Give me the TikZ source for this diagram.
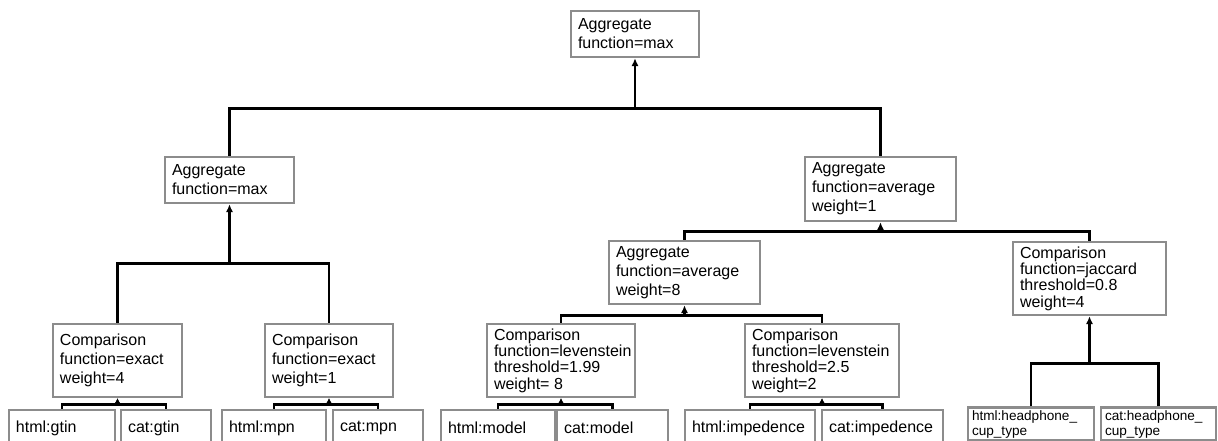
\documentclass[tikz,border=0pt]{standalone}
\usepackage{fontspec}
\setmainfont{Liberation Sans}
\usetikzlibrary{positioning, arrows.meta, calc}

\begin{document}
\begin{tikzpicture}[
    x=0.75pt, y=-0.75pt,
    font=\fontsize{12pt}{14.25pt}\selectfont,
    >=Latex,
    box/.style={
        rectangle, draw=black!45, line width=1.8pt,
        fill=white,
        inner xsep=5.25pt, inner ysep=2pt,
        align=flush left
    },
    cmp/.style={box, minimum height=54.75pt},
    tight/.style={font=\fontsize{12pt}{12.2pt}\selectfont},
    leaf/.style={box, minimum height=27pt},
    smallleaf/.style={box, inner xsep=3pt, minimum height=24pt,
        font=\fontsize{10.2pt}{11.25pt}\selectfont},
    link/.style={line width=2pt},
    arrow/.style={-{Latex[length=6pt,width=5.5pt]}, line width=2pt},
    shortarrow/.style={-{Latex[length=4.5pt,width=5pt]}, line width=2pt},
]
\clip (0,0) rectangle (1218,441);

% ---------- Root ----------
\node[box, text width=85.5pt, minimum height=34.5pt] (root) at (635,34) {Aggregate\\function=max};

% ---------- Second level ----------
\node[box, text width=86.25pt, minimum height=34.5pt] (aggMax) at (229.5,180) {Aggregate\\function=max};
\node[box, text width=102.75pt, minimum height=48pt] (aggAvg) at (880.5,189) {Aggregate\\function=average\\weight=1};

% ---------- Third level ----------
\node[box, text width=102.75pt, minimum height=47.25pt] (aggAvgW8) at (684.5,272.5) {Aggregate\\function=average\\weight=8};
\node[cmp, tight, text width=104.25pt] (cmpJac) at (1089.5,278.5) {Comparison\\function=jaccard\\threshold=0.8\\weight=4};

% ---------- Comparisons ----------
\node[cmp, text width=86.25pt] (cmpGtin) at (117.5,360.5) {Comparison\\function=exact\\weight=4};
\node[cmp, text width=85.5pt] (cmpMpn) at (329,360.5) {Comparison\\function=exact\\weight=1};
\node[cmp, tight, text width=100.5pt] (cmpModel) at (561,360.5) {Comparison\\function=levenstein\\threshold=1.99\\weight= 8};
\node[cmp, tight, text width=105pt] (cmpImp) at (822,360.5) {Comparison\\function=levenstein\\threshold=2.5\\weight=2};

% ---------- Leaves ----------
\node[leaf, text width=69pt] (htmlGtin) at (62,428) {html:gtin};
\node[leaf, text width=57pt] (catGtin) at (166,428) {cat:gtin};
\node[leaf, text width=67.5pt] (htmlMpn) at (274,428) {html:mpn};
\node[leaf, text width=57pt] (catMpn) at (378,428) {cat:mpn};
\node[leaf, text width=75pt] (htmlModel) at (498,428) {html:model};
\node[leaf, text width=72.75pt] (catModel) at (612.5,428) {cat:model};
\node[leaf, text width=87pt] (htmlImp) at (750,428) {html:impedence};
\node[leaf, text width=80.25pt] (catImp) at (882.5,428) {cat:impedence};
\node[smallleaf, text width=88.5pt] (htmlCup) at (1031,424) {html:headphone\_\\cup\_type};
\node[smallleaf, text width=80.25pt] (catCup) at (1158.5,424) {cat:headphone\_\\cup\_type};

% ---------- Junctions ----------
\coordinate (j0) at ($(root.south)+(0,50)$);
\coordinate (j1) at ($(aggMax.south)+(0,59)$);
\coordinate (j2) at ($(aggAvg.south)+(0,9)$);
\coordinate (j3) at ($(aggAvgW8.south)+(0,10)$);
\coordinate (j4) at ($(cmpJac.south)+(0,47)$);

% ---------- Arrows ----------
\draw[arrow] (aggMax.north) |- (j0) -- (root.south);
\draw[link] (aggAvg.north) |- (j0);

\draw[arrow] (cmpGtin.north) |- (j1) -- (aggMax.south);
\draw[link] (cmpMpn.north) |- (j1);

\draw[arrow] (aggAvgW8.north) |- (j2) -- (aggAvg.south);
\draw[link] (cmpJac.north) |- (j2);

\draw[arrow] (cmpModel.north) |- (j3) -- (aggAvgW8.south);
\draw[link] (cmpImp.north) |- (j3);

\draw[arrow] (htmlCup.north) |- (j4) -- (cmpJac.south);
\draw[link] (catCup.north) |- (j4);

% leaves feed their comparisons
\foreach \src/\dst in {htmlGtin/cmpGtin, catGtin/cmpGtin, htmlMpn/cmpMpn, catMpn/cmpMpn,
    htmlModel/cmpModel, catModel/cmpModel, htmlImp/cmpImp, catImp/cmpImp}
    \draw[shortarrow] (\src.north) |- ($(\dst.south)+(0,6)$) -- (\dst.south);

\end{tikzpicture}
\end{document}
